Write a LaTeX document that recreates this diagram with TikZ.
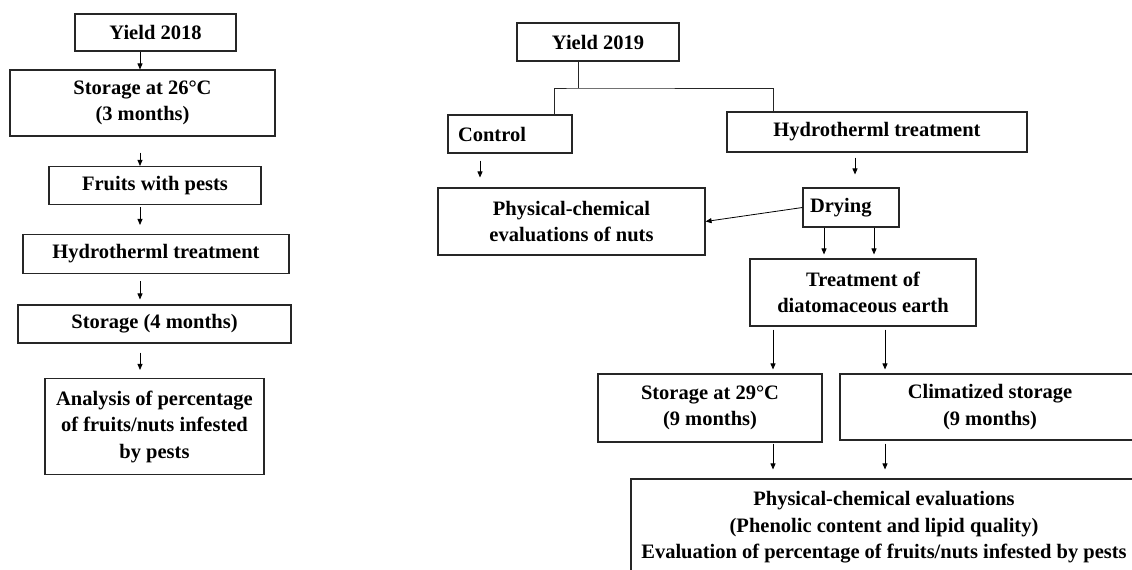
\documentclass[tikz,border=0pt]{standalone}
\usepackage{fontspec}
\setmainfont{Liberation Serif}
\usetikzlibrary{arrows.meta}
\begin{document}
\begin{tikzpicture}[x=1pt,y=-1pt,
  box/.style={draw=black!85, line width=1.1pt, rectangle, inner sep=0pt, align=center,
    font=\bfseries\fontsize{20.5}{26.5}\selectfont},
  arr/.style={-{Triangle[length=6pt,width=5pt]}, line width=0.8pt, black},
  tree/.style={line width=1pt, black!85}]
\useasboundingbox (0,0) rectangle (1132,570);
\clip (0,0) rectangle (1132,570);
\fill[white] (0,0) rectangle (1132,570);

% left column
\node[box, minimum width=161pt, minimum height=37pt] (y18) at (155.5,32.5) {Yield 2018};
\node[box, minimum width=265pt, minimum height=66pt] (s26) at (142.5,103) {Storage at 26°C\\(3 months)};
\node[box, minimum width=212pt, minimum height=38pt] (fr) at (155,185.5) {Fruits with pests};
\node[box, minimum width=266pt, minimum height=39pt] (hl) at (156,254) {Hydrotherml treatment};
\node[box, minimum width=273pt, minimum height=38pt] (s4) at (154.5,324) {Storage (4 months)};
\node[box, minimum width=219pt, minimum height=96pt] (an) at (154.5,426.5) {Analysis of percentage\\of fruits/nuts infested\\by pests};

% right part
\node[box, minimum width=162pt, minimum height=38pt] (y19) at (598,42) {Yield 2019};
\node[box, minimum width=124pt, minimum height=38pt, text width=104pt, align=left] (ctl) at (510,134) {Control};
\node[box, minimum width=300pt, minimum height=40pt] (hr) at (877,132) {Hydrotherml treatment};
\node[box, minimum width=267pt, minimum height=67pt] (ph) at (571.5,221.5) {Physical-chemical\\evaluations of nuts};
\node[box, minimum width=96pt, minimum height=39pt, text width=82pt, align=left] (dr) at (851,207.5) {Drying};
\node[box, minimum width=226pt, minimum height=67pt] (tr) at (863,292.5) {Treatment of\\diatomaceous earth};
\node[box, minimum width=224pt, minimum height=68pt] (s29) at (710,408) {Storage at 29°C\\(9 months)};
\node[box, minimum width=300pt, minimum height=66pt] (cl) at (990,407) {Climatized storage\\(9 months)};
\node[box, minimum width=506pt, minimum height=97pt] (bt) at (884,527.5) {Physical-chemical evaluations\\(Phenolic content and lipid quality)\\Evaluation of percentage of fruits/nuts infested by pests};

% coordinates for connector columns
\coordinate (lx) at (140,0);
\coordinate (c1) at (480,0);
\coordinate (c2) at (855,0);
\coordinate (c3) at (824,0);
\coordinate (c4) at (874,0);
\coordinate (c5) at (773,0);
\coordinate (c6) at (885,0);
\coordinate (tj) at (578,88);
\coordinate (tl) at (554,0);
\coordinate (trx) at (773,0);

% left arrows
\draw[arr] (y18.south -| lx) -- (s26.north -| lx);
\draw[arr, shorten <=16pt] (s26.south -| lx) -- (fr.north -| lx);
\draw[arr, shorten <=2pt, shorten >=9pt] (fr.south -| lx) -- (hl.north -| lx);
\draw[arr, shorten <=7pt, shorten >=5pt] (hl.south -| lx) -- (s4.north -| lx);
\draw[arr, shorten <=9pt, shorten >=8pt] (s4.south -| lx) -- (an.north -| lx);

% tree
\draw[tree] (y19.south -| tj) -- (tj);
\draw[tree] (ctl.north -| tl) |- (tj) -| (hr.north -| trx);

% right arrows
\draw[arr, shorten <=7pt, shorten >=10pt] (ctl.south -| c1) -- (ph.north -| c1);
\draw[arr, shorten <=5pt, shorten >=13pt] (hr.south -| c2) -- (dr.north -| c2);
\draw[arr] (dr.west) -- (ph.east);
\draw[arr, shorten >=4pt] (dr.south -| c3) -- (tr.north -| c3);
\draw[arr, shorten >=4pt] (dr.south -| c4) -- (tr.north -| c4);
\draw[arr, shorten <=3pt, shorten >=4pt] (tr.south -| c5) -- (s29.north -| c5);
\draw[arr, shorten <=3pt, shorten >=4pt] (tr.south -| c6) -- (cl.north -| c6);
\draw[arr, shorten <=1pt, shorten >=9pt] (s29.south -| c5) -- (bt.north -| c5);
\draw[arr, shorten <=3pt, shorten >=9pt] (cl.south -| c6) -- (bt.north -| c6);
\end{tikzpicture}
\end{document}
